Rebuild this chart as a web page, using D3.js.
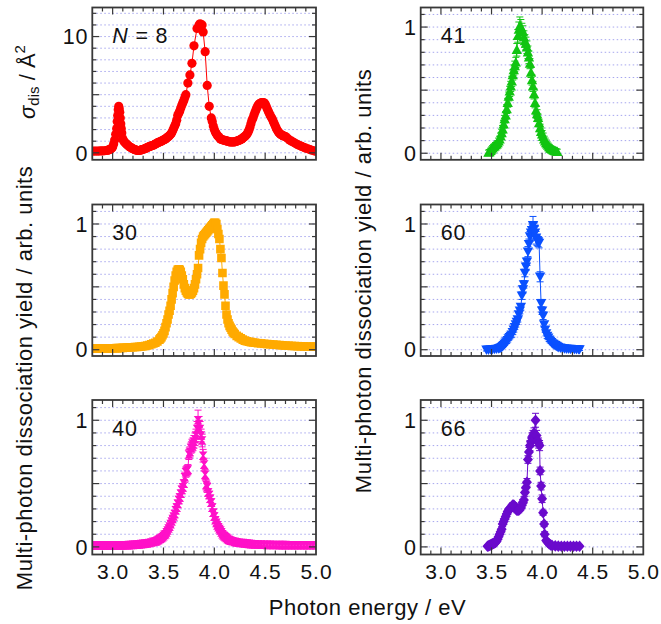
<!DOCTYPE html>
<html><head><meta charset="utf-8">
<script src="https://cdn.jsdelivr.net/npm/d3@7"></script>
<style>
body{margin:0;background:#fff}
text{font-family:"Liberation Sans",Arial,Helvetica,sans-serif;fill:#111}
</style>
</head><body>
<svg id="c" width="661" height="624"></svg>
<script>
// ---------- data ----------
const xTickValues = [3.0, 3.5, 4.0, 4.5, 5.0];
const xTickLabels = ["3.0", "3.5", "4.0", "4.5", "5.0"];
const panelLabels = ["8", "41", "30", "60", "40", "66"];
const xTitle = "Photon energy / eV";
const yTitle = "Multi-photon dissociation yield / arb. units";

// N = 8 : [photon energy eV, sigma_dis Å^2]
const n8 = [[2.80,.15],[2.82,.15],[2.84,.15],[2.86,.15],[2.88,.16],[2.90,.16],[2.92,.18],[2.94,.2],[2.95,.22],[2.96,.25],[2.97,.28],[2.98,.32],[2.99,.4],[3.00,.5],[3.01,.75],[3.02,1.1],[3.03,1.6],[3.04,2.1],[3.045,2.7],[3.05,3.2],[3.055,3.7],[3.06,4.0],[3.065,3.8],[3.07,3.5],[3.075,3.0],[3.08,2.5],[3.085,2.1],[3.09,1.7],[3.10,1.2],[3.11,1.0],[3.12,.9],[3.13,.8],[3.14,.72],[3.15,.65],[3.16,.57],[3.17,.5],[3.18,.45],[3.19,.4],[3.20,.35],[3.21,.3],[3.22,.27],[3.23,.24],[3.24,.22],[3.25,.2],[3.26,.2],[3.27,.22],[3.28,.25],[3.29,.28],[3.30,.3],[3.31,.33],[3.32,.37],[3.33,.4],[3.34,.45],[3.35,.5],[3.36,.53],[3.37,.56],[3.38,.6],[3.39,.62],[3.40,.65],[3.41,.7],[3.42,.75],[3.43,.8],[3.44,.85],[3.45,.9],[3.46,.93],[3.47,.97],[3.48,1.0],[3.49,1.05],[3.50,1.1],[3.51,1.15],[3.52,1.2],[3.53,1.27],[3.54,1.33],[3.55,1.4],[3.56,1.5],[3.57,1.6],[3.58,1.7],[3.59,1.9],[3.60,2.1],[3.61,2.3],[3.62,2.5],[3.63,2.8],[3.64,3.2],[3.65,3.4],[3.66,3.6],[3.67,3.85],[3.68,4.1],[3.69,4.3],[3.70,4.5],[3.71,4.75],[3.72,5.0],[3.74,6.0],[3.76,6.7],[3.78,7.7],[3.80,9.2],[3.83,10.7],[3.85,11.0],[3.86,11.1],[3.88,11.0],[3.89,10.4],[3.91,8.7],[3.93,5.8],[3.95,4.0],[3.97,3.0],[3.98,2.7],[3.99,2.3],[4.00,2.0],[4.01,1.8],[4.02,1.65],[4.03,1.5],[4.04,1.4],[4.05,1.3],[4.06,1.2],[4.07,1.15],[4.08,1.12],[4.09,1.1],[4.10,1.08],[4.11,1.05],[4.12,1.02],[4.13,1.0],[4.14,.97],[4.15,.95],[4.16,.94],[4.17,.93],[4.18,.93],[4.19,.94],[4.20,.95],[4.21,.97],[4.22,1.0],[4.23,1.03],[4.24,1.07],[4.25,1.1],[4.26,1.15],[4.27,1.2],[4.28,1.27],[4.29,1.33],[4.30,1.4],[4.31,1.5],[4.32,1.6],[4.33,1.75],[4.34,1.95],[4.35,2.2],[4.36,2.5],[4.37,2.8],[4.38,3.0],[4.39,3.25],[4.40,3.5],[4.41,3.7],[4.42,3.9],[4.43,4.1],[4.44,4.2],[4.45,4.25],[4.46,4.3],[4.47,4.32],[4.48,4.32],[4.49,4.3],[4.50,4.2],[4.51,4.0],[4.52,3.8],[4.53,3.6],[4.54,3.4],[4.55,3.2],[4.56,3.05],[4.57,2.9],[4.58,2.7],[4.59,2.5],[4.60,2.3],[4.61,2.1],[4.62,1.95],[4.63,1.8],[4.64,1.7],[4.65,1.6],[4.66,1.55],[4.67,1.5],[4.68,1.45],[4.69,1.42],[4.70,1.4],[4.72,1.25],[4.74,1.1],[4.76,1.0],[4.78,.9],[4.80,.8],[4.82,.7],[4.84,.62],[4.86,.55],[4.88,.47],[4.90,.4],[4.92,.35],[4.94,.28],[4.96,.22],[4.98,.17],[5.00,.13]];

// N = 30 : [eV, yield]
const n30 = [[2.80,.01],[2.82,.01],[2.84,.01],[2.86,.01],[2.88,.01],[2.90,.01],[2.92,.01],[2.94,.01],[2.96,.011],[2.98,.011],[3.00,.012],[3.02,.012],[3.04,.013],[3.06,.013],[3.08,.014],[3.10,.015],[3.12,.016],[3.14,.017],[3.16,.018],[3.18,.019],[3.20,.02],[3.22,.021],[3.24,.022],[3.26,.023],[3.28,.025],[3.30,.027],[3.32,.03],[3.34,.033],[3.36,.037],[3.38,.043],[3.40,.05],[3.42,.055],[3.44,.065],[3.46,.08],[3.47,.09],[3.48,.10],[3.49,.115],[3.50,.13],[3.51,.15],[3.52,.18],[3.53,.21],[3.54,.24],[3.55,.28],[3.56,.31],[3.57,.35],[3.58,.40],[3.59,.45],[3.60,.50],[3.61,.55],[3.62,.59],[3.63,.62],[3.64,.635],[3.65,.64],[3.66,.635],[3.67,.62],[3.68,.59],[3.69,.56],[3.70,.52],[3.71,.49],[3.72,.47],[3.73,.455],[3.74,.445],[3.75,.44],[3.76,.44],[3.77,.445],[3.78,.455],[3.79,.47],[3.80,.49],[3.81,.52],[3.82,.56],[3.83,.60],[3.84,.65],[3.85,.75],[3.86,.80],[3.87,.85],[3.88,.88],[3.89,.90],[3.90,.91],[3.91,.92],[3.92,.93],[3.93,.94],[3.94,.95],[3.95,.96],[3.96,.97],[3.97,.98],[3.98,.99],[3.99,1.0],[4.00,1.01],[4.01,1.01],[4.02,1.0],[4.03,.96],[4.04,.92],[4.05,.88],[4.06,.80],[4.07,.73],[4.08,.61],[4.09,.51],[4.10,.44],[4.11,.35],[4.12,.28],[4.13,.24],[4.14,.21],[4.15,.19],[4.16,.175],[4.17,.16],[4.18,.145],[4.19,.135],[4.20,.125],[4.22,.11],[4.24,.10],[4.26,.09],[4.28,.08],[4.30,.072],[4.32,.067],[4.34,.063],[4.36,.06],[4.38,.057],[4.40,.055],[4.43,.052],[4.46,.05],[4.49,.047],[4.52,.045],[4.55,.043],[4.58,.041],[4.61,.039],[4.64,.037],[4.67,.035],[4.70,.033],[4.73,.032],[4.76,.03],[4.79,.029],[4.82,.028],[4.85,.027],[4.88,.026],[4.91,.025],[4.94,.025],[4.97,.025],[5.00,.025]];

// N = 40 : [eV, yield, error]
const n40 = [[2.80,.01,.01],[2.82,.01,.01],[2.84,.01,.01],[2.86,.01,.01],[2.88,.01,.01],[2.90,.01,.01],[2.92,.01,.01],[2.94,.01,.01],[2.96,.01,.01],[2.98,.01,.01],[3.00,.01,.01],[3.02,.01,.01],[3.04,.011,.01],[3.06,.011,.01],[3.08,.012,.01],[3.10,.012,.01],[3.12,.013,.01],[3.14,.013,.01],[3.16,.014,.01],[3.18,.015,.01],[3.20,.016,.01],[3.22,.017,.01],[3.24,.018,.01],[3.26,.02,.01],[3.28,.022,.01],[3.30,.024,.01],[3.32,.026,.01],[3.34,.028,.01],[3.36,.031,.01],[3.38,.035,.01],[3.40,.04,.01],[3.42,.043,.01],[3.43,.045,.01],[3.44,.05,.01],[3.45,.055,.01],[3.46,.06,.01],[3.47,.065,.015],[3.48,.07,.015],[3.49,.076,.015],[3.50,.085,.015],[3.51,.095,.015],[3.52,.10,.02],[3.53,.115,.02],[3.54,.13,.02],[3.55,.145,.02],[3.56,.16,.02],[3.57,.18,.02],[3.58,.20,.02],[3.59,.22,.02],[3.60,.24,.02],[3.61,.26,.03],[3.62,.29,.03],[3.63,.31,.03],[3.64,.34,.03],[3.65,.37,.03],[3.66,.39,.03],[3.67,.42,.03],[3.68,.45,.03],[3.69,.47,.03],[3.70,.50,.03],[3.71,.55,.04],[3.72,.59,.04],[3.73,.60,.04],[3.74,.61,.04],[3.75,.73,.04],[3.76,.75,.04],[3.77,.78,.04],[3.78,.80,.05],[3.79,.81,.05],[3.80,.83,.05],[3.81,.85,.05],[3.82,.88,.05],[3.83,.93,.06],[3.84,1.0,.08],[3.85,.97,.06],[3.86,.93,.06],[3.87,.88,.05],[3.88,.84,.05],[3.89,.72,.05],[3.90,.65,.05],[3.91,.57,.04],[3.92,.49,.04],[3.93,.47,.04],[3.94,.43,.03],[3.95,.41,.03],[3.96,.38,.03],[3.97,.35,.03],[3.98,.31,.03],[3.99,.27,.03],[4.00,.24,.03],[4.01,.21,.02],[4.02,.19,.02],[4.03,.17,.02],[4.04,.155,.02],[4.05,.14,.02],[4.06,.13,.02],[4.07,.115,.02],[4.08,.10,.02],[4.09,.09,.02],[4.10,.083,.02],[4.11,.076,.02],[4.12,.07,.015],[4.13,.063,.015],[4.14,.057,.015],[4.15,.052,.015],[4.16,.048,.015],[4.18,.045,.015],[4.20,.04,.01],[4.22,.036,.01],[4.24,.033,.01],[4.26,.031,.01],[4.28,.03,.01],[4.30,.028,.01],[4.32,.026,.01],[4.34,.024,.01],[4.36,.022,.01],[4.38,.021,.01],[4.40,.02,.01],[4.43,.019,.01],[4.46,.018,.01],[4.49,.017,.01],[4.52,.016,.01],[4.55,.016,.01],[4.58,.015,.01],[4.61,.015,.01],[4.64,.014,.01],[4.67,.014,.01],[4.70,.014,.01],[4.73,.013,.01],[4.76,.013,.01],[4.79,.013,.01],[4.82,.013,.01],[4.85,.013,.01],[4.88,.013,.01],[4.91,.013,.01],[4.94,.013,.01],[4.97,.013,.01],[5.00,.013,.01]];

// N = 41 : [eV, yield, error]
const n41 = [[3.47,.005,.02],[3.48,.01,.02],[3.49,.02,.02],[3.50,.03,.02],[3.51,.04,.02],[3.52,.05,.02],[3.53,.055,.02],[3.54,.065,.02],[3.55,.07,.02],[3.56,.08,.02],[3.57,.095,.025],[3.58,.11,.025],[3.59,.135,.025],[3.60,.16,.03],[3.61,.19,.03],[3.62,.23,.03],[3.63,.27,.03],[3.64,.30,.03],[3.65,.35,.035],[3.66,.40,.035],[3.67,.45,.035],[3.68,.49,.04],[3.69,.53,.04],[3.70,.57,.04],[3.71,.62,.04],[3.72,.66,.04],[3.73,.69,.04],[3.74,.72,.04],[3.75,.82,.05],[3.76,.93,.05],[3.77,.98,.06],[3.78,1.01,.07],[3.79,1.0,.06],[3.80,.98,.05],[3.81,.96,.05],[3.82,.92,.05],[3.83,.89,.05],[3.84,.87,.05],[3.85,.84,.05],[3.86,.80,.05],[3.87,.76,.05],[3.88,.71,.04],[3.89,.64,.04],[3.90,.58,.04],[3.91,.53,.04],[3.92,.47,.04],[3.93,.40,.04],[3.94,.34,.035],[3.95,.31,.035],[3.96,.28,.03],[3.97,.24,.03],[3.98,.20,.03],[3.99,.17,.03],[4.00,.15,.03],[4.01,.13,.03],[4.02,.11,.025],[4.03,.095,.025],[4.04,.08,.025],[4.05,.07,.02],[4.06,.06,.02],[4.07,.05,.02],[4.08,.04,.02],[4.09,.035,.02],[4.10,.03,.02],[4.11,.025,.02],[4.12,.02,.02],[4.13,.018,.02],[4.14,.015,.02],[4.15,.012,.02]];

// N = 60 : [eV, yield, error]
const n60 = [[3.45,0,.01],[3.47,0,.01],[3.49,.003,.01],[3.51,.004,.01],[3.53,.005,.01],[3.55,.007,.01],[3.57,.01,.01],[3.58,.013,.01],[3.59,.016,.01],[3.60,.02,.01],[3.61,.027,.01],[3.62,.035,.01],[3.63,.045,.01],[3.64,.055,.01],[3.65,.065,.015],[3.66,.076,.015],[3.67,.09,.015],[3.68,.10,.015],[3.69,.11,.015],[3.70,.12,.02],[3.71,.14,.02],[3.72,.16,.02],[3.73,.18,.02],[3.74,.20,.02],[3.75,.22,.02],[3.76,.24,.02],[3.77,.28,.02],[3.78,.31,.025],[3.79,.34,.025],[3.80,.43,.03],[3.81,.48,.03],[3.82,.52,.03],[3.83,.61,.03],[3.84,.66,.03],[3.85,.70,.03],[3.86,.78,.04],[3.87,.84,.04],[3.88,.90,.04],[3.89,.93,.05],[3.90,.95,.05],[3.91,.99,.07],[3.92,.96,.05],[3.93,.93,.05],[3.94,.89,.05],[3.95,.87,.04],[3.96,.86,.04],[3.97,.85,.04],[3.98,.58,.04],[3.99,.37,.03],[4.00,.31,.03],[4.01,.27,.03],[4.02,.20,.02],[4.03,.16,.02],[4.04,.13,.02],[4.05,.11,.02],[4.06,.095,.015],[4.07,.08,.015],[4.08,.07,.015],[4.09,.06,.01],[4.10,.05,.01],[4.11,.045,.01],[4.12,.04,.01],[4.13,.035,.01],[4.14,.03,.01],[4.15,.025,.01],[4.16,.02,.01],[4.18,.016,.01],[4.20,.012,.01],[4.22,.01,.01],[4.24,.008,.01],[4.26,.007,.01],[4.28,.006,.01],[4.30,.005,.01],[4.32,.004,.01],[4.34,.004,.01],[4.36,.003,.01],[4.37,.003,.01]];

// N = 66 : [eV, yield, error]
const n66 = [[3.46,.005,.01],[3.47,.008,.01],[3.48,.012,.01],[3.49,.016,.01],[3.50,.02,.01],[3.51,.024,.01],[3.52,.028,.01],[3.53,.032,.01],[3.54,.035,.01],[3.55,.045,.01],[3.56,.06,.015],[3.57,.08,.015],[3.58,.10,.015],[3.59,.12,.015],[3.60,.14,.02],[3.61,.18,.02],[3.62,.20,.02],[3.63,.22,.02],[3.64,.24,.02],[3.65,.26,.02],[3.66,.28,.02],[3.67,.29,.02],[3.68,.30,.02],[3.69,.31,.02],[3.70,.32,.02],[3.71,.33,.02],[3.72,.33,.02],[3.73,.32,.02],[3.74,.30,.02],[3.75,.29,.02],[3.76,.29,.02],[3.77,.29,.02],[3.78,.30,.02],[3.79,.31,.02],[3.80,.33,.025],[3.81,.35,.025],[3.82,.37,.025],[3.83,.43,.03],[3.84,.47,.03],[3.85,.51,.03],[3.86,.69,.03],[3.87,.75,.035],[3.88,.80,.04],[3.89,.83,.04],[3.90,.86,.04],[3.91,.88,.04],[3.92,.90,.04],[3.935,1.0,.055],[3.945,.88,.04],[3.955,.84,.04],[3.965,.82,.04],[3.975,.80,.04],[3.98,.60,.03],[3.99,.48,.03],[4.00,.38,.03],[4.01,.27,.02],[4.02,.18,.02],[4.025,.10,.02],[4.04,.05,.01],[4.055,.035,.01],[4.07,.024,.01],[4.085,.016,.01],[4.10,.01,.01],[4.13,.008,.01],[4.16,.006,.01],[4.19,.005,.01],[4.22,.005,.01],[4.25,.005,.01],[4.28,.005,.01],[4.31,.005,.01],[4.34,.005,.01],[4.37,.005,.01]];

// ---------- layout ----------
const svg = d3.select("#c");
const cols = [[92.3, 316], [420.7, 643.3]];
const rows = [[7.5, 159.8], [204.5, 356], [400, 554.5]];
const xDomain = [2.8, 5.0];

const panels = [
  {col:0,row:0,lab:panelLabels[0],italicN:true,data:n8,err:false,color:"#ff0000",shape:"circle",yd:[-0.6,12.5],yMajor:[0,5,10],yMinorStep:1,yMax:12,yLabs:[0,10]},
  {col:1,row:0,lab:panelLabels[1],data:n41,err:true,color:"#11c411",shape:"tri",yd:[-0.052,1.155],yMajor:[0,0.5,1],yMinorStep:0.1,yMax:1.1,yLabs:[0,1]},
  {col:0,row:1,lab:panelLabels[2],data:n30,err:false,color:"#ffaa00",shape:"square",yd:[-0.05,1.155],yMajor:[0,0.5,1],yMinorStep:0.1,yMax:1.1,yLabs:[0,1]},
  {col:1,row:1,lab:panelLabels[3],data:n60,err:true,color:"#0a50ff",shape:"tridown",yd:[-0.05,1.155],yMajor:[0,0.5,1],yMinorStep:0.1,yMax:1.1,yLabs:[0,1]},
  {col:0,row:2,lab:panelLabels[4],data:n40,err:true,color:"#ff10c8",shape:"hourglass",yd:[-0.06,1.16],yMajor:[0,0.5,1],yMinorStep:0.1,yMax:1.1,yLabs:[0,1]},
  {col:1,row:2,lab:panelLabels[5],data:n66,err:true,color:"#6a0acc",shape:"diamond",yd:[-0.06,1.16],yMajor:[0,0.5,1],yMinorStep:0.1,yMax:1.1,yLabs:[0,1]}
];

function markerPath(shape){
  switch(shape){
    case "circle": { const r=4.6; return `M${-r},0A${r},${r} 0 1,0 ${r},0A${r},${r} 0 1,0 ${-r},0Z`; }
    case "square": return "M-4.3,-4.3H4.3V4.3H-4.3Z";
    case "tri": return "M0,-5.2L5.2,4.2L-5.2,4.2Z";
    case "tridown": return "M0,5.2L5.2,-4.2L-5.2,-4.2Z";
    case "diamond": return "M0,-5.8L5,0L0,5.8L-5,0Z";
    case "hourglass": return "M-4.3,-4.3H4.3L1,0L4.3,4.3H-4.3L-1,0Z";
  }
}

const frameColor = "#383838";
const gridColor = "#a6a6ee";

panels.forEach((p,i)=>{
  const [x0,x1] = cols[p.col];
  const [yb,ye] = rows[p.row];
  const xs = d3.scaleLinear().domain(xDomain).range([x0,x1]);
  const ys = d3.scaleLinear().domain(p.yd).range([ye,yb]);
  const g = svg.append("g");
  const cid = "clip"+i;
  svg.append("clipPath").attr("id",cid).append("rect")
    .attr("x",x0).attr("y",yb).attr("width",x1-x0).attr("height",ye-yb);

  const nGrid = Math.round(p.yMax/p.yMinorStep);
  const gridVals = d3.range(0,nGrid+1).map(k=>+(k*p.yMinorStep).toFixed(4));
  g.append("g").selectAll("line").data(gridVals).join("line")
    .attr("x1",x0).attr("x2",x1)
    .attr("y1",d=>ys(d)).attr("y2",d=>ys(d))
    .attr("stroke",gridColor).attr("stroke-width",1)
    .attr("stroke-dasharray","1.5,2.5");

  const plot = g.append("g").attr("clip-path",`url(#${cid})`);
  const pts = p.data;
  plot.append("path").datum(pts)
    .attr("d",d3.line().x(d=>xs(d[0])).y(d=>ys(d[1])))
    .attr("fill","none").attr("stroke",p.color).attr("stroke-width",1);
  if(p.err){
    const eb = plot.append("g").attr("stroke",p.color).attr("stroke-width",1);
    eb.selectAll("line.v").data(pts).join("line").attr("class","v")
      .attr("x1",d=>xs(d[0])).attr("x2",d=>xs(d[0]))
      .attr("y1",d=>ys(d[1]-d[2])).attr("y2",d=>ys(d[1]+d[2]));
    eb.selectAll("line.t").data(pts).join("line").attr("class","t")
      .attr("x1",d=>xs(d[0])-3.5).attr("x2",d=>xs(d[0])+3.5)
      .attr("y1",d=>ys(d[1]+d[2])).attr("y2",d=>ys(d[1]+d[2]));
    eb.selectAll("line.b").data(pts).join("line").attr("class","b")
      .attr("x1",d=>xs(d[0])-3.5).attr("x2",d=>xs(d[0])+3.5)
      .attr("y1",d=>ys(d[1]-d[2])).attr("y2",d=>ys(d[1]-d[2]));
  }
  plot.append("g").selectAll("path").data(pts).join("path")
    .attr("d",markerPath(p.shape))
    .attr("transform",d=>`translate(${xs(d[0])},${ys(d[1])})`)
    .attr("fill",p.color);

  const tk = g.append("g").attr("stroke",frameColor).attr("stroke-width",1.2);
  const xMinor = d3.range(29,50).map(k=>k/10);
  xMinor.forEach(v=>{
    const major = Math.abs(v*2-Math.round(v*2))<1e-6;
    const L = major?7:4;
    tk.append("line").attr("x1",xs(v)).attr("x2",xs(v)).attr("y1",ye).attr("y2",ye-L);
    tk.append("line").attr("x1",xs(v)).attr("x2",xs(v)).attr("y1",yb).attr("y2",yb+L);
  });
  gridVals.forEach(v=>{
    const major = p.yMajor.some(m=>Math.abs(m-v)<1e-6);
    const L = major?7:4;
    tk.append("line").attr("x1",x0).attr("x2",x0+L).attr("y1",ys(v)).attr("y2",ys(v));
    tk.append("line").attr("x1",x1).attr("x2",x1-L).attr("y1",ys(v)).attr("y2",ys(v));
  });

  g.append("rect").attr("x",x0).attr("y",yb).attr("width",x1-x0).attr("height",ye-yb)
    .attr("fill","none").attr("stroke",frameColor).attr("stroke-width",1.8);

  g.append("g").selectAll("text").data(p.yLabs).join("text")
    .attr("x",x0-4).attr("y",d=>ys(d)).attr("dy","0.36em")
    .attr("text-anchor","end").attr("font-size",21.5).style("letter-spacing","0.8px")
    .text(d=>String(d));

  if(p.row===2){
    g.append("g").selectAll("text").data(xTickValues).join("text")
      .attr("x",d=>xs(d)+0.5).attr("y",ye+24.5)
      .attr("text-anchor","middle").attr("font-size",21).style("letter-spacing","1px")
      .text((d,k)=>xTickLabels[k]);
  }

  const t = g.append("text").attr("x",x0+20).attr("y",yb+35.5)
    .attr("font-size",21.5).style("letter-spacing","0.8px");
  if(p.italicN){
    t.append("tspan").attr("font-style","italic").text("N");
    t.append("tspan").text(" = "+p.lab);
  } else t.text(p.lab);
});

svg.append("text").attr("x",367.5).attr("y",615)
  .attr("text-anchor","middle").attr("font-size",22).style("letter-spacing","0.5px")
  .text(xTitle);

svg.append("text").attr("transform","translate(32,378) rotate(-90)")
  .attr("text-anchor","middle").attr("font-size",22).style("letter-spacing","0.5px")
  .text(yTitle);

svg.append("text").attr("transform","translate(371,281) rotate(-90)")
  .attr("text-anchor","middle").attr("font-size",22).style("letter-spacing","0.5px")
  .text(yTitle);

const s = svg.append("text").attr("transform","translate(35,82) rotate(-90)")
  .attr("text-anchor","middle").attr("font-size",22);
s.append("tspan").attr("font-style","italic").text("σ");
s.append("tspan").attr("font-size",15).attr("dy",4).text("dis");
s.append("tspan").attr("dy",-4).text(" / Å");
s.append("tspan").attr("font-size",15).attr("dy",-10).text("2");
</script>
</body></html>
